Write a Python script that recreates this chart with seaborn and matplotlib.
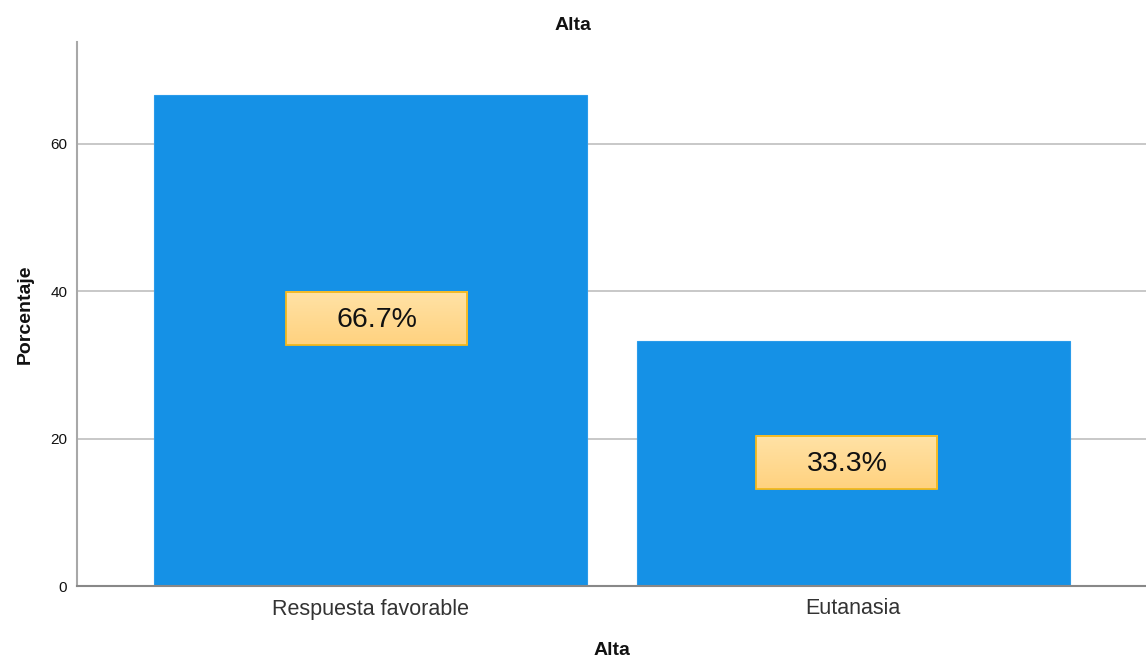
import numpy as np
import pandas as pd
import matplotlib
matplotlib.use("Agg")
import matplotlib.pyplot as plt
from matplotlib.patches import Rectangle
import seaborn as sns

categories = ["Respuesta favorable", "Eutanasia"]
percentages = [66.7, 33.3]
y_ticks = [0, 20, 40, 60]

# centre of each value badge (data units) and its size
badge_x = [0.012, -0.013]
badge_y = [36.3, 16.7]
badge_w = 0.3755
badge_h = 7.2

sns.set_theme(style="white")
plt.rcParams["font.family"] = ["Liberation Sans", "DejaVu Sans"]

df = pd.DataFrame({"Alta": categories, "Porcentaje": percentages})

fig = plt.figure(figsize=(11.46, 6.61), dpi=100)
ax = fig.add_axes([77 / 1146, 75 / 661, 1 - 77 / 1146, 544 / 661])

sns.barplot(data=df, x="Alta", y="Porcentaje", color="#1591E6", saturation=1,
            width=0.898, ax=ax, zorder=2, edgecolor="#2A9BEA", linewidth=0.8)

ax.set_yticks(y_ticks)
ax.set_yticklabels([str(t) for t in y_ticks], fontsize=11, color="#111111")
ax.tick_params(axis="x", labelsize=15.5, colors="#333333", pad=9, length=0)
ax.tick_params(axis="y", pad=7, length=0)
ax.yaxis.grid(True, color="#C8C8C8", linewidth=1.4, zorder=0)
ax.set_axisbelow(True)

for side in ["top", "right"]:
    ax.spines[side].set_visible(False)
ax.spines["left"].set_color("#A8A8A8")
ax.spines["left"].set_linewidth(1.5)
ax.spines["bottom"].set_color("#888888")
ax.spines["bottom"].set_linewidth(1.5)
ax.spines["bottom"].set_zorder(3)

ax.set_xlabel("Alta", fontsize=14, fontweight="bold", labelpad=16, color="#111111")
ax.set_ylabel("Porcentaje", fontsize=14, fontweight="bold", labelpad=12, color="#111111")

# value badges with a soft vertical gradient, lighter at the top
grad = np.linspace(1, 0, 64).reshape(-1, 1)
cmap = matplotlib.colors.LinearSegmentedColormap.from_list("badge", ["#FFE2A6", "#FFD27F"])
for i, (val, dx, yc) in enumerate(zip(percentages, badge_x, badge_y)):
    xc = i + dx
    x0, y0 = xc - badge_w / 2, yc - badge_h / 2
    ax.imshow(grad, extent=(x0, x0 + badge_w, y0, y0 + badge_h), cmap=cmap,
              aspect="auto", zorder=4, interpolation="bilinear", origin="lower")
    ax.add_patch(Rectangle((x0, y0), badge_w, badge_h, fill=False,
                           edgecolor="#F2B81C", linewidth=1.3, zorder=5))
    ax.text(xc, yc - 0.2, f"{val:.1f}%", ha="center", va="center", fontsize=20.5,
            color="#111111", zorder=6)
ax.set_xlim(-0.609, 1.607)
ax.set_ylim(0, 73.84)

fig.text(0.5, 1 - 25 / 661, "Alta", ha="center", va="center", fontsize=14,
         fontweight="bold", color="#111111")

fig.savefig("out.png", dpi=100)
